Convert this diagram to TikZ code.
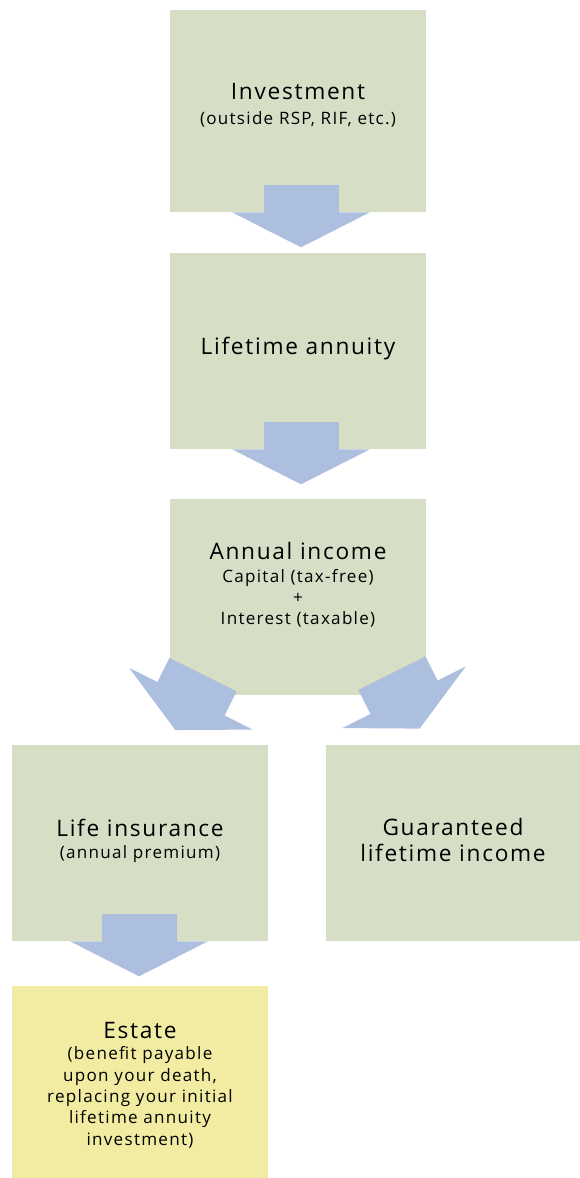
\documentclass[tikz,border=0pt]{standalone}
\usepackage{fontspec}
\setmainfont{Open Sans}[LetterSpace=7.5]
\usetikzlibrary{calc}
\definecolor{vertboite}{RGB}{214,222,198}
\definecolor{jauneboite}{RGB}{242,236,163}
\definecolor{bleufleche}{RGB}{173,191,222}
\newcommand{\grand}{\fontsize{17}{19.5}\selectfont}
\newcommand{\petit}{\fontsize{12.8}{16}\selectfont}
\tikzset{fleche/.pic={
    \fill[bleufleche] (-37.5,-27) rectangle (37.5,0.5);
    \fill[bleufleche] (-69,0) -- (69,0) -- (0,35) -- cycle;
}}
\begin{document}
\begin{tikzpicture}[x=0.75pt,y=-0.75pt]
    \tikzstyle{boite}=[rectangle,fill=vertboite,inner sep=0pt,minimum width=192pt,minimum height=147pt]
    \tikzstyle{texte}=[align=center,inner sep=0pt,text=black,font=\petit]
    \useasboundingbox (0,0) rectangle (580,1178);
    \node[boite,minimum height=151.5pt] (1) at (298,111) {};
    \node[boite] (2) at (298,351) {};
    \node[boite] (3) at (298,597) {};
    \node[boite] (4) at (140,843) {};
    \node[boite,minimum width=190.5pt] (5) at (453,843) {};
    \node[boite,fill=jauneboite,minimum height=144pt] (6) at (140,1082) {};
    \node[texte] (t1) at (298,105) {\grand Investment\\[3pt] \petit (outside RSP, RIF, etc.)};
    \node[texte,font=\grand] (t2) at (298,349) {Lifetime annuity};
    \node[texte] (t3) at (298,585) {\grand Annual income\\[1pt] \petit Capital (tax-free)\\ +\\ Interest (taxable)};
    \node[texte] (t4) at (140,841) {\grand Life insurance\\[1pt] \petit (annual premium)};
    \node[texte,font=\grand] (t5) at (453,840) {Guaranteed\\ lifetime income};
    \node[texte] (t6) at (140,1085) {\grand Estate\\ \petit (benefit payable\\ upon your death,\\ replacing your initial\\ lifetime annuity\\ investment)};
    \pic at ($(1.south)+(3,0)$) {fleche};
    \pic at ($(2.south)+(3,0)$) {fleche};
    \pic[rotate=-26.5] at ($(3.south)+(-107,3.5)$) {fleche};
    \pic[rotate=26.5] at ($(3.south)+(106,2)$) {fleche};
    \pic at ($(4.south)+(-1,0)$) {fleche};
\end{tikzpicture}
\end{document}
